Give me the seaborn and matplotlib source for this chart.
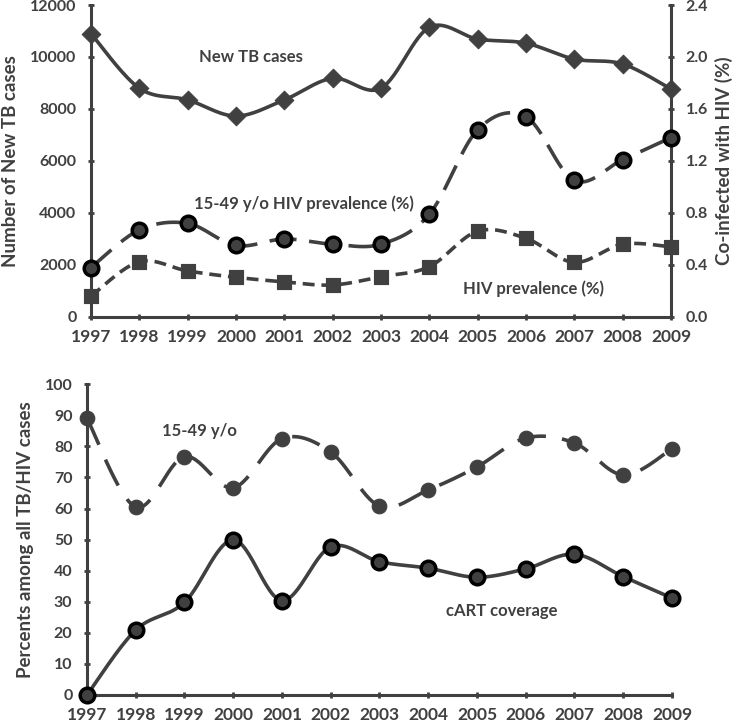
import numpy as np
import pandas as pd
import matplotlib
matplotlib.use("Agg")
import matplotlib.pyplot as plt
import seaborn as sns

years = [1997, 1998, 1999, 2000, 2001, 2002, 2003, 2004, 2005, 2006, 2007, 2008, 2009]
new_tb_cases = [10900, 8800, 8350, 7730, 8350, 9180, 8800, 11140, 10690, 10530, 9920, 9730, 8770]
hiv_prev_15_49 = [0.38, 0.67, 0.72, 0.55, 0.60, 0.56, 0.56, 0.79, 1.44, 1.54, 1.05, 1.21, 1.38]
hiv_prev = [0.16, 0.425, 0.354, 0.305, 0.27, 0.246, 0.31, 0.387, 0.66, 0.605, 0.42, 0.56, 0.54]
pct_15_49 = [89.0, 60.5, 76.7, 66.7, 82.5, 78.2, 60.8, 66.0, 73.4, 82.7, 81.1, 70.8, 79.2]
cart_coverage = [0.0, 20.9, 29.8, 49.9, 30.4, 47.7, 42.9, 40.8, 37.9, 40.6, 45.3, 38.1, 31.2]

sns.set_style("ticks")
FONT = ["Lato", "DejaVu Sans"]
plt.rcParams["font.family"] = FONT
C = "#404040"
plt.rcParams.update({
    "axes.edgecolor": C, "axes.linewidth": 2.2,
    "xtick.color": C, "ytick.color": C,
    "xtick.major.width": 2.0, "ytick.major.width": 2.0,
    "xtick.major.size": 5, "ytick.major.size": 5,
    "xtick.direction": "inout", "ytick.direction": "inout",
    "text.color": C, "axes.labelcolor": C,
})


def smooth(x, y, n=30):
    """Excel-style smoothed line (Catmull-Rom Bezier) through the data points."""
    x = np.asarray(x, float)
    y = np.asarray(y, float)
    px = np.concatenate([[x[0]], x, [x[-1]]])
    py = np.concatenate([[y[0]], y, [y[-1]]])
    xs, ys = [], []
    for i in range(1, len(px) - 2):
        p0 = np.array([px[i - 1], py[i - 1]])
        p1 = np.array([px[i], py[i]])
        p2 = np.array([px[i + 1], py[i + 1]])
        p3 = np.array([px[i + 2], py[i + 2]])
        c1 = p1 + (p2 - p0) / 6.0
        c2 = p2 - (p3 - p1) / 6.0
        t = np.linspace(0, 1, n, endpoint=(i == len(px) - 3))
        b = ((1 - t) ** 3)[:, None] * p1 + (3 * (1 - t) ** 2 * t)[:, None] * c1 \
            + (3 * (1 - t) * t ** 2)[:, None] * c2 + (t ** 3)[:, None] * p2
        xs.append(b[:, 0])
        ys.append(b[:, 1])
    return pd.DataFrame({"x": np.concatenate(xs), "y": np.concatenate(ys)})


fig = plt.figure(figsize=(7.36, 7.25), dpi=100)
ax1 = fig.add_axes([0.1236, 0.5628, 0.7881, 0.4303])
ax2 = ax1.twinx()
ax3 = fig.add_axes([0.1182, 0.0414, 0.7948, 0.4286])

lw = 2.6
# top panel
s = smooth(years, new_tb_cases)
sns.lineplot(data=s, x="x", y="y", ax=ax1, sort=False, color=C, lw=lw, estimator=None)
sns.scatterplot(x=years, y=new_tb_cases, ax=ax1, marker="D", s=90, color=C, edgecolor=C, zorder=5)

s = smooth(years, hiv_prev_15_49)
sns.lineplot(data=s, x="x", y="y", ax=ax2, sort=False, color=C, lw=lw, estimator=None, dashes=False)
ax2.lines[-1].set_dashes([7.5, 3.5])
sns.scatterplot(x=years, y=hiv_prev_15_49, ax=ax2, marker="o", s=110, color=C, edgecolor="black", linewidth=2.5, zorder=5)

s = smooth(years, hiv_prev)
sns.lineplot(data=s, x="x", y="y", ax=ax2, sort=False, color=C, lw=lw, estimator=None)
ax2.lines[-1].set_dashes([3.3, 1.9])
sns.scatterplot(x=years, y=hiv_prev, ax=ax2, marker="s", s=110, color=C, edgecolor=C, zorder=5)

ax1.set_xlim(1997, 2009)
ax1.set_ylim(0, 12000)
ax2.set_ylim(0, 2.4)
ax1.set_yticks(range(0, 12001, 2000))
ax2.set_yticks(np.arange(0, 2.41, 0.4))
ax2.set_yticklabels([f"{v:.1f}" for v in np.arange(0, 2.41, 0.4)])
ax1.set_xticks(years)
ax1.set_xticklabels([str(y) for y in years])

for a in (ax1, ax2):
    a.spines["top"].set_visible(False)
    a.set_xlabel("")
ax1.spines["right"].set_visible(False)
ax2.spines["left"].set_visible(False)
ax2.spines["bottom"].set_visible(False)
LBL = dict(fontsize=13.5, fontweight="bold")
ax1.set_ylabel("Number of New TB cases", labelpad=8, **LBL)
ax2.set_ylabel("Co-infected with HIV (%)", labelpad=5, **LBL)

ANN = dict(fontsize=12, fontweight="bold", ha="center", va="center")
ax1.text(2000.3, 10000, "New TB cases", **ANN)
ax2.text(2001.4, 0.87, "15-49 y/o HIV prevalence (%)", **ANN)
ax2.text(2006.15, 0.215, "HIV prevalence (%)", **ANN)

# bottom panel
s = smooth(years, pct_15_49)
sns.lineplot(data=s, x="x", y="y", ax=ax3, sort=False, color=C, lw=lw, estimator=None)
ax3.lines[-1].set_dashes([8, 4.5])
sns.scatterplot(x=years, y=pct_15_49, ax=ax3, marker="o", s=110, color=C, edgecolor=C, zorder=5)

s = smooth(years, cart_coverage)
sns.lineplot(data=s, x="x", y="y", ax=ax3, sort=False, color=C, lw=lw, estimator=None)
sns.scatterplot(x=years, y=cart_coverage, ax=ax3, marker="o", s=110, color=C, edgecolor="black", linewidth=2.5, zorder=5)

ax3.set_xlim(1997, 2009)
ax3.set_ylim(0, 100)
ax3.set_yticks(range(0, 101, 10))
ax3.set_xticks(years)
ax3.set_xticklabels([str(y) for y in years])
ax3.spines["top"].set_visible(False)
ax3.spines["right"].set_visible(False)
ax3.set_xlabel("")
ax3.set_ylabel("Percents among all TB/HIV cases", labelpad=8, **LBL)
ax3.text(1999.3, 85, "15-49 y/o", **ANN)
ax3.text(2005.5, 27, "cART coverage", **ANN)

for a in (ax1, ax2, ax3):
    a.tick_params(axis="y", labelsize=11.5, pad=8)
    a.tick_params(axis="x", labelsize=12.5, pad=6)
    for lab in a.get_xticklabels() + a.get_yticklabels():
        lab.set_fontweight("bold")
    for ln in a.lines:
        ln.set_clip_on(False)
    for c in a.collections:
        c.set_clip_on(False)
    leg = a.get_legend()
    if leg:
        leg.remove()

fig.savefig("out.png", dpi=100)
